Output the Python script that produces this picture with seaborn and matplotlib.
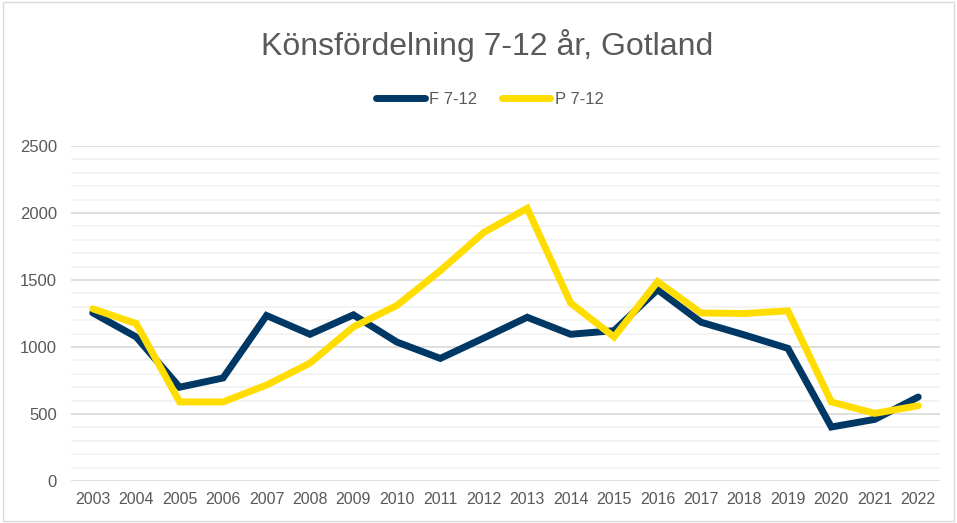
import pandas as pd
import numpy as np
import matplotlib.pyplot as plt
import seaborn as sns
from matplotlib.ticker import MultipleLocator

years = [str(y) for y in range(2003, 2023)]
f_vals = [1255, 1075, 700, 769, 1235, 1095, 1240, 1037, 915, 1067,
          1222, 1095, 1122, 1428, 1185, 1090, 990, 403, 460, 627]
p_vals = [1285, 1175, 590, 590, 716, 880, 1150, 1310, 1570, 1855,
          2035, 1328, 1075, 1488, 1254, 1250, 1270, 590, 505, 562]
series_names = ['F 7-12', 'P 7-12']
colors = ['#003865', '#FFDD00']

df = pd.DataFrame({
    'year': years * 2,
    'value': f_vals + p_vals,
    'series': [series_names[0]] * len(years) + [series_names[1]] * len(years),
})

sns.set_style('white')
plt.rcParams['font.family'] = ['Liberation Sans', 'DejaVu Sans']

fig = plt.figure(figsize=(9.57, 5.23), dpi=100)
ax = fig.add_axes([0.0742, 0.0803, 0.908, 0.6405])

sns.lineplot(data=df, x='year', y='value', hue='series', palette=colors,
             linewidth=5, sort=False, ax=ax, legend=False,
             solid_capstyle='round', solid_joinstyle='miter')

ax.set_xlim(-0.5, len(years) - 0.5)
ax.set_ylim(0, 2500)
ax.yaxis.set_major_locator(MultipleLocator(500))
ax.yaxis.set_minor_locator(MultipleLocator(100))
ax.grid(which='major', axis='y', color='#d9d9d9', linewidth=1.2, zorder=0)
ax.grid(which='minor', axis='y', color='#f2f2f2', linewidth=1.2, zorder=0)
ax.set_axisbelow(True)
for s in ax.spines.values():
    s.set_visible(False)
ax.set_xlabel('')
ax.set_ylabel('')
ax.tick_params(axis='both', which='both', length=0, labelcolor='#595959')
ax.tick_params(axis='y', labelsize=12, pad=10)
ax.tick_params(axis='x', labelsize=11.5, pad=8)

fig.text(0.509, 0.913, 'Könsfördelning 7-12 år, Gotland', ha='center',
         va='center', fontsize=23, color='#595959')

handles = [plt.Line2D([], [], color=c, linewidth=5, solid_capstyle='round')
           for c in colors]
fig.legend(handles, series_names, loc='center', bbox_to_anchor=(0.512, 0.81),
           ncol=2, frameon=False, fontsize=12, labelcolor='#595959',
           handlelength=2.9, handletextpad=0.25, columnspacing=1.5)

fig.add_artist(plt.Rectangle((0.003, 0.003), 0.994, 0.994, fill=False,
                             edgecolor='#d9d9d9', linewidth=1,
                             transform=fig.transFigure))

fig.savefig('out.png', dpi=100)
